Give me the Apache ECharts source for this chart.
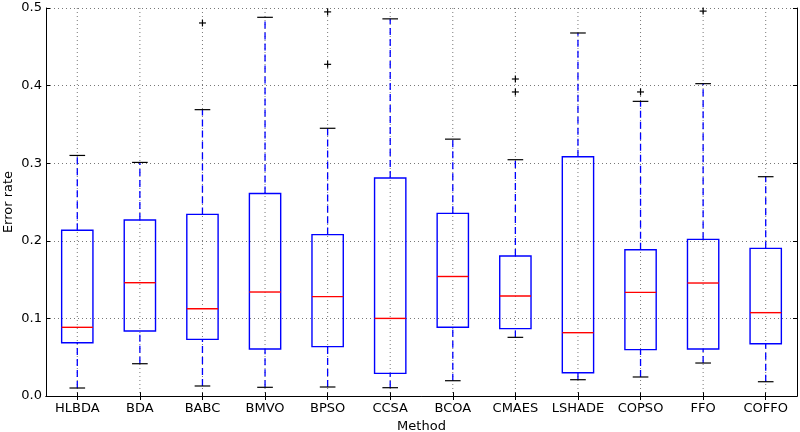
<!DOCTYPE html>
<html>
<head>
<meta charset="utf-8">
<script src="https://cdn.jsdelivr.net/npm/echarts@6/dist/echarts.min.js"></script>
<style>html,body{margin:0;padding:0;background:#fff}#c{width:800px;height:432px}</style>
</head>
<body>
<div id="c"></div>
<script>
const categories = ['HLBDA','BDA','BABC','BMVO','BPSO','CCSA','BCOA','CMAES','LSHADE','COPSO','FFO','COFFO'];
const lowerWhisker = [0.0103,0.0416,0.0129,0.0112,0.0116,0.0107,0.0197,0.0756,0.0210,0.0245,0.0425,0.0184];
const q1 =           [0.0687,0.0838,0.0730,0.0606,0.0636,0.0292,0.0885,0.0868,0.0300,0.0597,0.0606,0.0674];
const median =       [0.0885,0.1460,0.1125,0.1340,0.1280,0.1000,0.1540,0.1289,0.0816,0.1336,0.1456,0.1074];
const q3 =           [0.2135,0.2268,0.2340,0.2610,0.2080,0.2810,0.2354,0.1804,0.3084,0.1885,0.2019,0.1903];
const upperWhisker = [0.3100,0.3010,0.3690,0.4880,0.3450,0.4860,0.3310,0.3045,0.4678,0.3797,0.4025,0.2826];
const outliers = [[2,0.4807],[4,0.4950],[4,0.4274],[7,0.4085],[7,0.3918],[9,0.3918],[10,0.4960]];
const yTicks = [0,0.1,0.2,0.3,0.4,0.5];

const boxData = categories.map((c,i)=>[i, lowerWhisker[i], q1[i], median[i], q3[i], upperWhisker[i]]);

const FONT = 'DejaVu Sans';
const BLUE = '#0000ff';

function renderBox(params, api){
  const i = api.value(0);
  const bw = api.size([1,0])[0];
  const half = bw*0.25, capHalf = bw*0.125;
  const pLo = api.coord([i, api.value(1)]);
  const pQ1 = api.coord([i, api.value(2)]);
  const pMd = api.coord([i, api.value(3)]);
  const pQ3 = api.coord([i, api.value(4)]);
  const pHi = api.coord([i, api.value(5)]);
  const top = api.coord([i, yTicks[yTicks.length-1]])[1];
  const bot = api.coord([i, yTicks[0]])[1];
  const x = pLo[0];
  const dash = {stroke: BLUE, lineWidth: 1.3, lineDash: [7,4]};
  return {type:'group', children:[
    {type:'line', shape:{x1:x,y1:top,x2:x,y2:bot}, style:{stroke:'#555', lineWidth:0.8, lineDash:[1,3]}, silent:true},
    {type:'line', shape:{x1:x,y1:pLo[1],x2:x,y2:pQ1[1]}, style:dash},
    {type:'line', shape:{x1:x,y1:pQ3[1],x2:x,y2:pHi[1]}, style:dash},
    {type:'line', shape:{x1:x-capHalf,y1:pLo[1],x2:x+capHalf,y2:pLo[1]}, style:{stroke:'#000', lineWidth:1.2}},
    {type:'line', shape:{x1:x-capHalf,y1:pHi[1],x2:x+capHalf,y2:pHi[1]}, style:{stroke:'#000', lineWidth:1.2}},
    {type:'rect', shape:{x:x-half,y:pQ3[1],width:2*half,height:pQ1[1]-pQ3[1]}, style:{fill:'none', stroke:BLUE, lineWidth:1.4}},
    {type:'line', shape:{x1:x-half,y1:pMd[1],x2:x+half,y2:pMd[1]}, style:{stroke:'#ff0000', lineWidth:1.4}}
  ]};
}

function renderPlus(params, api){
  const p = api.coord([api.value(0), api.value(1)]);
  const s = 3.5;
  return {type:'group', children:[
    {type:'line', shape:{x1:p[0]-s,y1:p[1],x2:p[0]+s,y2:p[1]}, style:{stroke:'#000', lineWidth:1.2}},
    {type:'line', shape:{x1:p[0],y1:p[1]-s,x2:p[0],y2:p[1]+s}, style:{stroke:'#000', lineWidth:1.2}}
  ]};
}

const axisLine = {show:true, lineStyle:{color:'#000', width:1}};
const chart = echarts.init(document.getElementById('c'), null, {renderer:'canvas'});
chart.setOption({
  animation:false,
  backgroundColor:'#fff',
  grid:{left:46, right:3, top:8, bottom:36, containLabel:false, outerBoundsMode:'none'},
  xAxis:[{
    type:'category', data:categories, boundaryGap:true,
    name:'Method', nameLocation:'middle', nameGap:24, nameMoveOverlap:false,
    nameTextStyle:{fontFamily:FONT, fontSize:13, color:'#000'},
    axisLine:axisLine,
    axisTick:{show:true, inside:true, alignWithLabel:true, length:4, lineStyle:{color:'#000'}},
    axisLabel:{fontFamily:FONT, fontSize:13, color:'#000', margin:6, interval:0},
    splitLine:{show:false}
  },{
    type:'category', data:categories, position:'top', boundaryGap:true,
    axisLine:axisLine,
    axisTick:{show:true, inside:true, alignWithLabel:true, length:4, lineStyle:{color:'#000'}},
    axisLabel:{show:false}, splitLine:{show:false}
  }],
  yAxis:[{
    type:'value', min:0, max:0.5, interval:0.1,
    name:'Error rate', nameLocation:'middle', nameGap:31, nameRotate:90, nameMoveOverlap:false,
    nameTextStyle:{fontFamily:FONT, fontSize:13, color:'#000'},
    axisLine:axisLine,
    axisTick:{show:true, inside:true, length:4, lineStyle:{color:'#000'}},
    axisLabel:{fontFamily:FONT, fontSize:13, color:'#000', margin:4, formatter:v=>v.toFixed(1)},
    splitLine:{show:true, lineStyle:{color:'#555', width:0.8, type:[1,3]}}
  },{
    type:'value', min:0, max:0.5, interval:0.1, position:'right',
    axisLine:axisLine,
    axisTick:{show:true, inside:true, length:4, lineStyle:{color:'#000'}},
    axisLabel:{show:false}, splitLine:{show:false}
  }],
  series:[
    {type:'custom', renderItem:renderBox, data:boxData, encode:{x:0, y:[1,2,3,4,5]}, clip:false},
    {type:'custom', renderItem:renderPlus, data:outliers, encode:{x:0, y:1}}
  ]
});
</script>
</body>
</html>
